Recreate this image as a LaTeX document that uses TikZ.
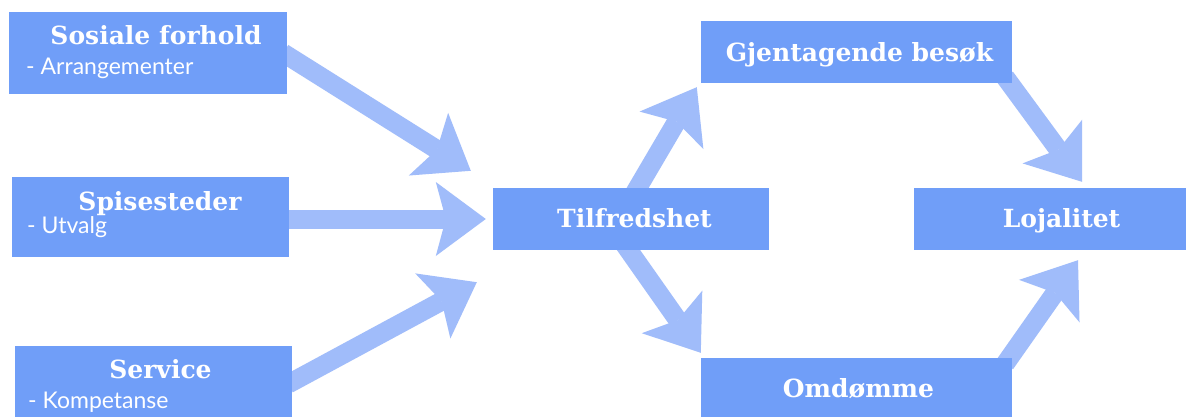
\documentclass[tikz,border=0pt]{standalone}
\usepackage{fontspec}
\setmainfont{DejaVu Serif}
\newfontfamily\subfont{Lato}
\usetikzlibrary{arrows.meta,calc}
\definecolor{boxblue}{HTML}{709EF8}
\definecolor{arrblue}{HTML}{A0BCFA}
\pgfdeclarelayer{bg}
\pgfdeclarelayer{background}
\pgfsetlayers{bg,background,main}
\tikzset{
  box/.style={fill=boxblue, draw=none, inner sep=0pt},
  title/.style={text=white, font=\bfseries\fontsize{25}{29}\selectfont, inner sep=0pt, anchor=base},
  subt/.style={text=white, font=\subfont\fontsize{23}{27}\selectfont, inner sep=0pt, anchor=base west},
  bigarrow/.style={draw=arrblue, line width=19pt,
    -{Stealth[length=50pt,width=74pt,inset=10pt,line width=0pt]}}
}
\begin{document}
\begin{tikzpicture}[x=1pt,y=-1pt]
\begin{pgfonlayer}{bg}
\fill[white] (0,0) rectangle (1186,417);
\end{pgfonlayer}
\useasboundingbox (0,0) rectangle (1186,417);
% boxes
\node[box, minimum width=278pt, minimum height=82pt] (soc)  at (148,53) {};
\node[box, minimum width=277pt, minimum height=80pt] (spis) at (150.5,217) {};
\node[box, minimum width=277pt, minimum height=80pt] (serv) at (153.5,386) {};
\node[box, minimum width=276pt, minimum height=62pt] (tilf) at (631,219) {};
\node[box, minimum width=311pt, minimum height=62pt] (gjen) at (856.5,52) {};
\node[box, minimum width=311pt, minimum height=62pt] (omd)  at (856.5,389) {};
\node[box, minimum width=276pt, minimum height=62pt] (loj)  at (1052,219) {};
% texts
\node[title] (socT) at (156,45) {Sosiale forhold};
\node[subt] (socS) at (26,75) {- Arrangementer};
\node[title] (spisT) at (160,210) {Spisesteder};
\node[subt] (spisS) at (27,233) {- Utvalg};
\node[title] (servT) at (160.5,378) {Service};
\node[subt] (servS) at (28,408) {- Kompetanse};
\node[title] (tilfT) at (634.5,227) {Tilfredshet};
\node[title] (gjenT) at (859.5,62) {Gjentagende besøk};
\node[title] (omdT) at (858.5,397) {Omdømme};
\node[title] (lojT) at (1061.5,227) {Lojalitet};
% arrows
\begin{pgfonlayer}{background}
\draw[bigarrow] ($(soc.east)+(-4,0)$) -- ($(tilf.north west)+(-22,-17)$);
\draw[bigarrow] ($(spis.east)+(-4,2)$) -- ($(tilf.west)+(-7,0)$);
\draw[bigarrow] ($(serv.east)+(-4,-2)$) -- ($(tilf.south west)+(-16,32)$);
\draw[bigarrow] ($(tilf.north)+(2,8)$) -- ($(gjen.south west)+(-4,4)$);
\draw[bigarrow] ($(tilf.south)+(-8,-8)$) -- ($(omd.north west)+(0,-5)$);
\draw[bigarrow] ($(gjen.south east)+(-7,-6)$) -- ($(loj.north)+(30,-6)$);
\draw[bigarrow] ($(omd.north east)+(-7,6)$) -- ($(loj.south)+(26,10)$);
\end{pgfonlayer}
\end{tikzpicture}
\end{document}
